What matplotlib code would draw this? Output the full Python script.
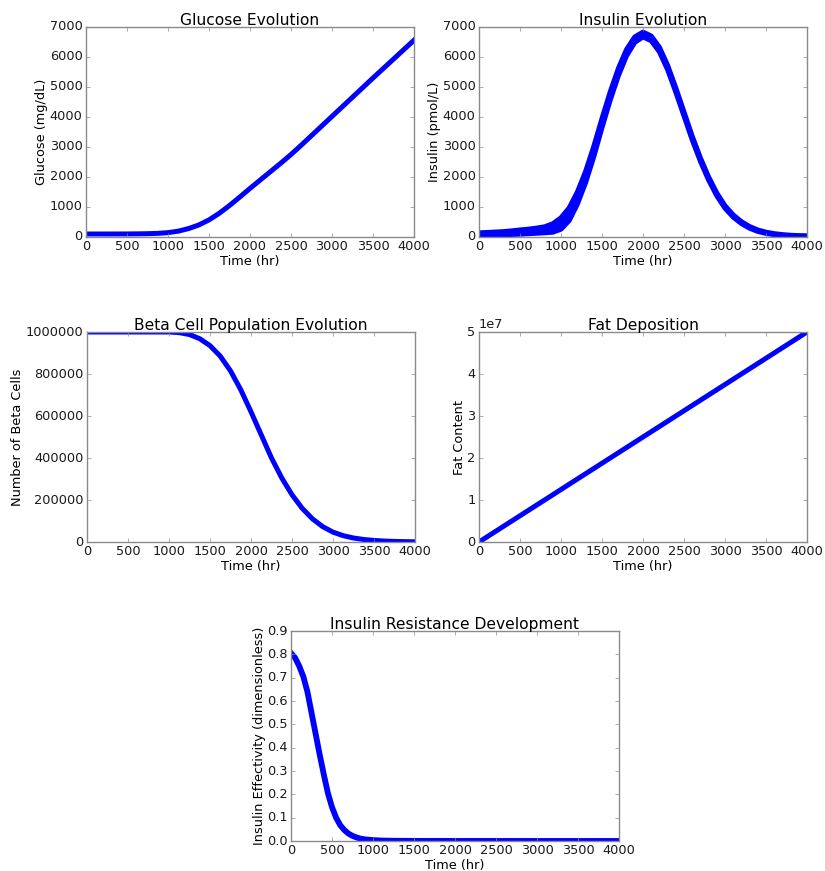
import numpy as np
import matplotlib
matplotlib.use('Agg')
import matplotlib.pyplot as plt

plt.style.use('classic')
plt.rcParams['figure.facecolor'] = 'white'
plt.rcParams['savefig.facecolor'] = 'white'
plt.rcParams['font.size'] = 9.3
plt.rcParams['axes.edgecolor'] = '#8a8a8a'
plt.rcParams['xtick.color'] = '#8a8a8a'
plt.rcParams['ytick.color'] = '#8a8a8a'
plt.rcParams['xtick.labelcolor'] = '#1a1a1a'
plt.rcParams['ytick.labelcolor'] = '#1a1a1a'
plt.rcParams['xtick.major.pad'] = 2.5
plt.rcParams['ytick.major.pad'] = 2.5
plt.rcParams['xtick.major.size'] = 3
plt.rcParams['ytick.major.size'] = 3
plt.rcParams['axes.labelpad'] = 1

# glucose, read every 125 hr
t_glu = [0, 125, 250, 375, 500, 625, 750, 875, 1000, 1125, 1250, 1375, 1500,
         1625, 1750, 1875, 2000, 2125, 2250, 2375, 2500, 2625, 2750, 2875,
         3000, 3125, 3250, 3375, 3500, 3625, 3750, 3875, 4000]
glucose = [100, 100, 100, 101, 102, 105, 110, 122, 145, 195, 280, 400, 570,
           790, 1050, 1330, 1620, 1900, 2180, 2460, 2750, 3060, 3380, 3700,
           4020, 4340, 4660, 4980, 5300, 5615, 5930, 6245, 6560]

# insulin, read every 100 hr (centre of the band and its half spread)
t_ins = [0, 100, 200, 300, 400, 500, 600, 700, 800, 900, 1000, 1100, 1200,
         1300, 1400, 1500, 1600, 1700, 1800, 1900, 2000, 2100, 2200, 2300,
         2400, 2500, 2600, 2700, 2800, 2900, 3000, 3100, 3200, 3300, 3400,
         3500, 3600, 3700, 3800, 3900, 4000]
insulin = [100, 105, 115, 125, 145, 165, 185, 210, 240, 300, 450, 760, 1300,
           2000, 2850, 3800, 4700, 5500, 6150, 6580, 6750, 6620, 6250, 5650,
           4900, 4100, 3300, 2580, 1950, 1420, 1000, 700, 480, 320, 210, 140,
           95, 65, 45, 35, 30]
insulin_spread = [40, 45, 50, 55, 60, 70, 75, 85, 100, 140, 190, 210, 200,
                  185, 170, 150, 135, 120, 105, 90, 80, 78, 75, 72, 70, 65,
                  60, 55, 50, 45, 40, 36, 32, 28, 24, 20, 17, 15, 13, 11, 10]

# beta cells, read every 125 hr
t_beta = [0, 250, 500, 750, 1000, 1125, 1250, 1375, 1500, 1625, 1750, 1875,
          2000, 2125, 2250, 2375, 2500, 2625, 2750, 2875, 3000, 3125, 3250,
          3375, 3500, 3625, 3750, 3875, 4000]
beta = [1e6, 1e6, 1e6, 1e6, 1e6, 997000, 988000, 968000, 935000, 885000,
        815000, 725000, 620000, 510000, 400000, 305000, 225000, 160000,
        110000, 73000, 47000, 30000, 19000, 12000, 7500, 4500, 2800, 1700,
        1000]

t_fat = [0, 1000, 2000, 3000, 4000]
fat = [0, 1.25e7, 2.5e7, 3.75e7, 5e7]

t_eff = [0, 50, 100, 150, 200, 250, 300, 350, 400, 450, 500, 550, 600, 650,
         700, 750, 800, 850, 900, 1000, 1100, 1250, 1500, 2000, 3000, 4000]
effectivity = [0.805, 0.785, 0.75, 0.705, 0.64, 0.55, 0.46, 0.37, 0.285,
               0.205, 0.145, 0.10, 0.068, 0.047, 0.032, 0.022, 0.015, 0.010,
               0.007, 0.004, 0.002, 0.001, 0.0005, 0.0002, 0.0001, 0.0001]

W, H = 825, 871
lw = 3.6
fig = plt.figure(figsize=(W / 100, H / 100), dpi=100)


def box(left, bottom):
    return [left / W, 1 - bottom / H, 328 / W, 210 / H]


ax1 = fig.add_axes(box(86, 237))
ax1.plot(t_glu, glucose, color='b', lw=lw)
ax1.set_xlim(0, 4000)
ax1.set_ylim(0, 7000)
ax1.set_title('Glucose Evolution', pad=1.5)
ax1.set_xlabel('Time (hr)')
ax1.set_ylabel('Glucose (mg/dL)')

ax2 = fig.add_axes(box(479, 237))
ins = np.array(insulin)
spr = np.array(insulin_spread)
ax2.fill_between(t_ins, ins - spr, ins + spr, color='b', lw=0)
ax2.plot(t_ins, ins - spr, color='b', lw=lw)
ax2.plot(t_ins, ins + spr, color='b', lw=lw)
ax2.set_xlim(0, 4000)
ax2.set_ylim(0, 7000)
ax2.set_title('Insulin Evolution', pad=1.5)
ax2.set_xlabel('Time (hr)')
ax2.set_ylabel('Insulin (pmol/L)')

ax3 = fig.add_axes(box(87, 542))
ax3.plot(t_beta, beta, color='b', lw=lw)
ax3.set_xlim(0, 4000)
ax3.set_ylim(0, 1000000)
ax3.set_title('Beta Cell Population Evolution', pad=1.5)
ax3.set_xlabel('Time (hr)')
ax3.set_ylabel('Number of Beta Cells')

ax4 = fig.add_axes(box(479, 542))
ax4.plot(t_fat, fat, color='b', lw=lw)
ax4.set_xlim(0, 4000)
ax4.set_ylim(0, 5e7)
ax4.set_title('Fat Deposition', pad=1.5)
ax4.set_xlabel('Time (hr)')
ax4.set_ylabel('Fat Content')

ax5 = fig.add_axes(box(291, 841))
ax5.plot(t_eff, effectivity, color='b', lw=lw + 0.6)
ax5.set_xlim(0, 4000)
ax5.set_ylim(0, 0.9)
ax5.set_title('Insulin Resistance Development', pad=1.5)
ax5.set_xlabel('Time (hr)')
ax5.set_ylabel('Insulin Effectivity (dimensionless)')

fig.savefig('out.png', dpi=100)
